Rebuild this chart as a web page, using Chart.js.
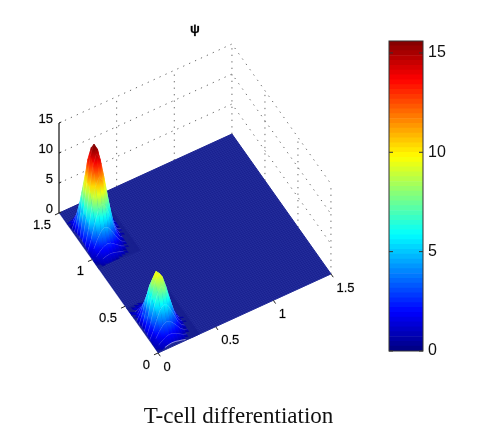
<!DOCTYPE html>
<html>
<head>
<meta charset="utf-8">
<style>
html,body{margin:0;padding:0;background:#fff;width:490px;height:444px;overflow:hidden}
#main{position:absolute;left:0;top:0;filter:blur(0.55px)}
#bar{position:absolute;left:380px;top:30px;filter:blur(0.45px)}
#caption{position:absolute;left:0;width:477px;top:403px;text-align:center;font:23px "Liberation Serif",serif;color:#111}
</style>
<script src="https://cdn.jsdelivr.net/npm/chart.js@4"></script>
</head>
<body>
<canvas id="main" width="490" height="444"></canvas>
<canvas id="bar" width="100" height="335"></canvas>
<div id="caption">T-cell differentiation</div>
<script>
// ---- data ----
const axisTicks = [0, 0.5, 1, 1.5];
const axisTickLabels = ["0", "0.5", "1", "1.5"];
const zTicks = [0, 5, 10, 15];
const colorbarTicks = [0, 5, 10, 15];
const colorbarMax = 15.6;
const zLabel = "ψ";
const xGrid = [0, .03, .06, .09, .12, .15, .18, .21, .24, .27, .30, .33, .36];
const yGridUpper = [.90, .94, .98, 1.02, 1.06, 1.10, 1.14, 1.18, 1.22, 1.26, 1.30, 1.34, 1.38];
const yGridLower = [0, .04, .08, .12, .16, .20, .24, .28, .32, .36, .40, .44, .48];
const psiUpper = [
 [0,.07,.14,.2,.23,.21,.17,.11,.06,.02,0,0,0],
 [.05,.23,.48,.68,.77,.72,.56,.38,.2,.07,.02,0,0],
 [.1,.55,1.15,1.63,1.85,1.72,1.33,.9,.46,.17,.04,0,0],
 [.23,1.2,2.47,3.5,4.0,3.7,2.9,1.95,1.0,.36,.08,0,0],
 [.42,2.16,4.5,6.4,7.2,6.7,5.2,3.5,1.8,.65,.14,0,0],
 [.65,3.3,6.8,9.8,11.1,10.3,8.0,5.4,2.7,1.0,.22,0,0],
 [.84,4.3,8.8,12.6,14.3,13.3,10.3,7.0,3.6,1.26,.28,0,0],
 [.9,4.6,9.5,13.6,15.4,14.3,11.1,7.5,3.8,1.4,.3,0,0],
 [.83,4.2,8.7,12.5,14.2,13.2,10.2,6.9,3.5,1.26,.28,0,0],
 [.6,3.1,6.5,9.2,10.5,9.7,7.5,5.1,2.6,.94,.2,0,0],
 [.36,1.84,3.8,5.4,6.2,5.7,4.4,3.0,1.5,.55,.12,0,0],
 [.16,.83,1.7,2.45,2.8,2.6,2.0,1.35,.68,.25,.05,0,0],
 [.05,.23,.48,.68,.77,.72,.56,.38,.2,.07,.02,0,0]
];
const psiLower = [
 [.04,.19,.39,.56,.64,.6,.46,.32,.15,.06,.01,0,0],
 [.08,.4,.84,1.2,1.37,1.28,1.0,.68,.33,.13,.03,0,0],
 [.18,.86,1.8,2.56,2.9,2.7,2.1,1.44,.7,.27,.06,0,0],
 [.31,1.5,3.1,4.5,5.1,4.8,3.7,2.5,1.24,.47,.1,0,0],
 [.45,2.2,4.6,6.6,7.5,7.0,5.4,3.7,1.8,.7,.15,0,0],
 [.54,2.65,5.5,7.8,8.9,8.3,6.5,4.4,2.2,.82,.18,0,0],
 [.53,2.6,5.4,7.8,8.8,8.2,6.4,4.4,2.1,.82,.17,0,0],
 [.43,2.1,4.4,6.2,7.1,6.6,5.1,3.5,1.7,.66,.14,0,0],
 [.28,1.35,2.8,4.0,4.55,4.25,3.3,2.25,1.1,.42,.09,0,0],
 [.14,.7,1.46,2.1,2.4,2.2,1.7,1.17,.58,.22,.05,0,0],
 [.06,.27,.56,.8,.91,.85,.66,.45,.22,.08,.02,0,0],
 [.02,.08,.17,.24,.27,.26,.2,.14,.07,.02,0,0,0],
 [0,0,0,0,0,0,0,0,0,0,0,0,0]
];

// ---- view: oblique projection of (x,y,psi) to the chart's plane ----
const view = {ox:158, oy:353, xx:115.3, xy:-52.7, yx:-66, yy:-93.3, zy:-6};
function project(x, y, z) {
  return {x: view.ox + view.xx*x + view.yx*y, y: view.oy + view.xy*x + view.yy*y + view.zy*z};
}
function jet(t) {
  t = Math.max(0, Math.min(1, t));
  const f = v => Math.round(255*Math.max(0, Math.min(1, 1.5 - Math.abs(4*t - v))));
  return `rgb(${f(3)},${f(2)},${f(1)})`;
}
const floorRGB = [23,31,142];
function peakColor(z) {
  if (z < .15) return `rgb(${floorRGB.join(',')})`;
  return jet((z + Math.min(z*2, .6)) / colorbarMax);
}
const xMax = axisTicks[axisTicks.length-1], zMax = zTicks[zTicks.length-1];

function polyline(points, opts) {
  return Object.assign({data: points, showLine: true, pointRadius: 0, borderWidth: 1, fill: false, tension: 0, clip: false}, opts);
}
// vertical colour ramp of one mesh cell, through the chart's y scale
function cellPaint(pts, zs) {
  let cached = null;
  return ctx => {
    if (cached) return cached;
    const chart = ctx.chart, sy = chart.scales.y;
    const hi = zs.indexOf(Math.max(...zs)), lo = zs.indexOf(Math.min(...zs));
    const y0 = sy ? sy.getPixelForValue(pts[hi].y) : NaN, y1 = sy ? sy.getPixelForValue(pts[lo].y) : NaN;
    if (!isFinite(y0) || !isFinite(y1)) return peakColor(zs[hi]);
    if (Math.abs(y1 - y0) < .5) return (cached = peakColor(zs[hi]));
    const g = chart.ctx.createLinearGradient(0, y0, 0, y1);
    for (let s = 0; s <= 4; s++) g.addColorStop(s/4, peakColor(zs[hi] + (zs[lo]-zs[hi])*s/4));
    return (cached = g);
  };
}
function surface(xs, ys, table) {
  const out = [];
  for (let j = ys.length-2; j >= 0; j--) {
    for (let i = xs.length-2; i >= 0; i--) {
      const zs = [table[j][i], table[j][i+1], table[j+1][i+1], table[j+1][i]];
      const pts = [project(xs[i],ys[j],zs[0]), project(xs[i+1],ys[j],zs[1]),
                   project(xs[i+1],ys[j+1],zs[2]), project(xs[i],ys[j+1],zs[3])];
      const paint = cellPaint(pts, zs);
      out.push(polyline(pts, {fill:'shape', backgroundColor:paint, borderColor:paint, borderWidth:.6}));
    }
    const row = table[j];
    out.push(polyline(xs.map((x,i)=>project(x,ys[j],row[i])), {
      borderWidth:.8, borderColor:'rgba(255,255,255,.5)',
      segment:{borderColor: c => { const z = row[c.p0DataIndex];
        return z < .25 ? 'rgba(255,255,255,0)' : `rgba(255,255,255,${z<5?.7:.3})`; }}
    }));
  }
  return out;
}

const back = [];  // painted first
const dotted = {borderColor:'rgba(70,70,70,.8)', borderDash:[1.3,5.2], borderWidth:1};
for (const z of zTicks.slice(1)) {
  back.push(polyline([project(0,xMax,z), project(xMax,xMax,z), project(xMax,0,z)], dotted));
}
for (const t of axisTicks.slice(1)) {
  back.push(polyline([project(t,xMax,0), project(t,xMax,zMax)], dotted));
  if (t < xMax) back.push(polyline([project(xMax,t,0), project(xMax,t,zMax)], dotted));
}
back.push(polyline([project(xMax,0,0), project(xMax,0,zMax)], dotted));
back.push(polyline([project(0,0,0), project(xMax,0,0), project(xMax,xMax,0), project(0,xMax,0)],
  {fill:'shape', backgroundColor:`rgb(${floorRGB.join(',')})`, borderColor:'#1b2390', borderWidth:1}));
const meshPts = [];
for (let t = 0; t <= xMax; t += 0.0173) {
  meshPts.push(project(t,0,0), project(t,xMax,0), {x:NaN,y:NaN});
  meshPts.push(project(0,t,0), project(xMax,t,0), {x:NaN,y:NaN});
}
back.push(polyline(meshPts, {borderColor:'rgba(80,90,200,.28)', borderWidth:.6, spanGaps:false}));

const peaks = surface(xGrid, yGridUpper, psiUpper).concat(surface(xGrid, yGridLower, psiLower));

const axisInk = '#222';
const axes = [];
axes.push(polyline([project(0,xMax,0), project(0,xMax,zMax)], {borderColor:axisInk, borderWidth:1.3}));
for (const z of zTicks) {
  axes.push(polyline([project(0,xMax,z), project(.02,xMax,z)], {borderColor:axisInk}));
}
for (const t of axisTicks) {
  axes.push(polyline([project(t,0,0), project(t,-.035,0)], {borderColor:axisInk}));
  axes.push(polyline([project(0,t,0), project(-.035,t,0)], {borderColor:axisInk}));
}

const labelPlugin = {
  id:'labels',
  afterDraw(chart){
    const {ctx, scales:{x:sx, y:sy}} = chart;
    const px = p => [sx.getPixelForValue(p.x), sy.getPixelForValue(p.y)];
    ctx.save();
    ctx.fillStyle = '#000';
    ctx.strokeStyle = 'rgba(0,0,0,.5)';
    ctx.lineWidth = .35;
    ctx.font = '13px "Liberation Sans", sans-serif';
    ctx.textBaseline = 'middle';
    const put = (s,a,b)=>{ ctx.fillText(s,a,b); ctx.strokeText(s,a,b); };
    axisTicks.forEach((t,i)=>{
      let [a,b] = px(project(0,t,0));
      ctx.textAlign = 'right';
      put(axisTickLabels[i], a-8, b+12);
      [a,b] = px(project(t,0,0));
      ctx.textAlign = 'left';
      put(axisTickLabels[i], a+5.5, b+14);
    });
    zTicks.forEach(z=>{
      const [a,b] = px(project(0,xMax,z));
      ctx.textAlign = 'right';
      put(String(z), a-6, b-4);
    });
    ctx.font = 'bold 13px "Liberation Sans", sans-serif';
    ctx.textAlign = 'center';
    put(zLabel, 195, 29);
    ctx.restore();
  }
};

new Chart(document.getElementById('main'), {
  type:'scatter',
  data:{datasets: axes.concat(peaks.slice().reverse(), back.slice().reverse())},
  options:{
    responsive:false, animation:false, events:[],
    layout:{padding:0},
    plugins:{legend:{display:false}, tooltip:{enabled:false}, title:{display:false}},
    scales:{
      x:{type:'linear', min:0, max:490, display:false},
      y:{type:'linear', min:0, max:444, reverse:true, display:false}
    }
  },
  plugins:[labelPlugin]
});

// ---- colour bar ----
const levels = 64;
const barSets = [];
for (let i = 0; i < levels; i++) {
  barSets.push({data:[colorbarMax/levels], backgroundColor:jet((i+.5)/levels), borderWidth:0,
                barPercentage:1, categoryPercentage:1, stack:'c'});
}
const barFrame = {
  id:'frame',
  afterDatasetsDraw(chart){
    const {ctx, chartArea:a, scales:{y}} = chart;
    ctx.save();
    ctx.strokeStyle = '#333'; ctx.lineWidth = 1;
    ctx.strokeRect(a.left, a.top, a.right-a.left, a.bottom-a.top);
    colorbarTicks.forEach(v=>{
      const p = y.getPixelForValue(v);
      ctx.beginPath();
      ctx.moveTo(a.left,p); ctx.lineTo(a.left+4,p);
      ctx.moveTo(a.right,p); ctx.lineTo(a.right-4,p);
      ctx.stroke();
    });
    ctx.restore();
  }
};
new Chart(document.getElementById('bar'), {
  type:'bar',
  data:{labels:['ψ'], datasets:barSets},
  options:{
    responsive:false, animation:false, events:[],
    layout:{autoPadding:false, padding:{left:9, top:11, bottom:14, right:0}},
    plugins:{legend:{display:false}, tooltip:{enabled:false}},
    scales:{
      x:{display:false, stacked:true},
      y:{position:'right', stacked:true, min:0, max:colorbarMax,
         afterFit(s){ s.width = 57; s.paddingTop = 0; s.paddingBottom = 0; },
         grid:{display:false, drawTicks:false}, border:{display:false},
         ticks:{stepSize:5, includeBounds:false, padding:5, color:'#111',
                font:{family:'Liberation Sans', size:16}}}
    }
  },
  plugins:[barFrame]
});
</script>
</body>
</html>
